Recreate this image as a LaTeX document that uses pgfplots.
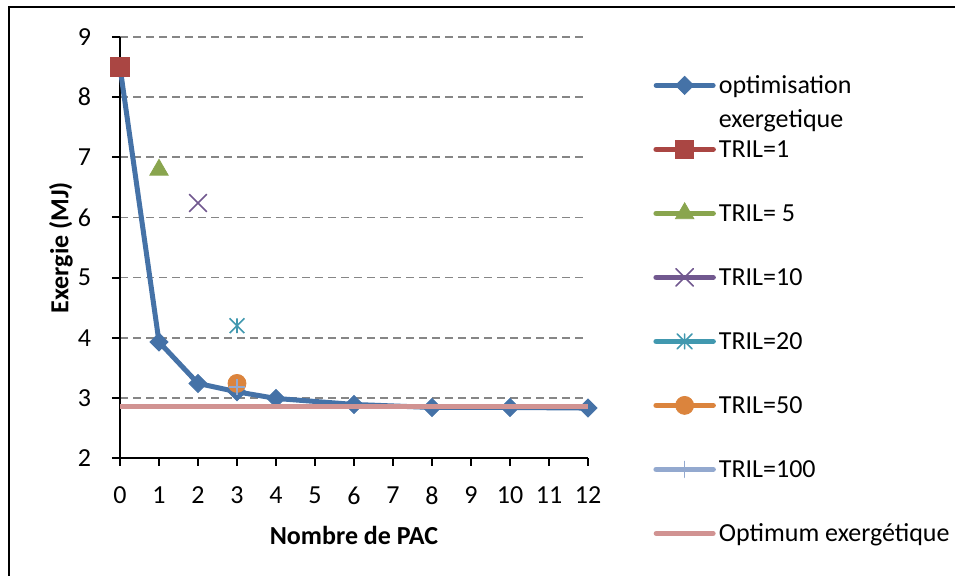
\documentclass[border=0pt]{standalone}
\usepackage{fontspec}
\setmainfont{Carlito}
\usepackage{pgfplots}
\pgfplotsset{compat=1.18}

\definecolor{serA}{RGB}{69,114,167}
\definecolor{serB}{RGB}{170,70,67}
\definecolor{serC}{RGB}{137,165,78}
\definecolor{serD}{RGB}{113,88,143}
\definecolor{serE}{RGB}{65,152,175}
\definecolor{serF}{RGB}{219,132,61}
\definecolor{serG}{RGB}{147,169,207}
\definecolor{serH}{RGB}{209,147,146}
\definecolor{gridgray}{RGB}{134,134,134}

% excel-like asterisk: x plus vertical bar
\pgfdeclareplotmark{xstar}{%
  \pgfpathmoveto{\pgfqpoint{0pt}{-\pgfplotmarksize}}%
  \pgfpathlineto{\pgfqpoint{0pt}{\pgfplotmarksize}}%
  \pgfpathmoveto{\pgfqpoint{-\pgfplotmarksize}{-\pgfplotmarksize}}%
  \pgfpathlineto{\pgfqpoint{\pgfplotmarksize}{\pgfplotmarksize}}%
  \pgfpathmoveto{\pgfqpoint{-\pgfplotmarksize}{\pgfplotmarksize}}%
  \pgfpathlineto{\pgfqpoint{\pgfplotmarksize}{-\pgfplotmarksize}}%
  \pgfusepathqstroke}

\begin{document}
\begin{tikzpicture}
\draw[line width=1pt] (4.5pt,-2pt) -- (4.5pt,284.25pt) -- (480pt,284.25pt);
\begin{axis}[
    set layers,
    at={(60pt,59pt)}, anchor=south west,
    x=19.5pt, y=30.07pt,
    xmin=0, xmax=12, ymin=2, ymax=9,
    xtick={0,...,12}, ytick={2,...,9},
    axis x line*=bottom, axis y line*=left,
    axis line style={black, line width=1pt},
    tick align=outside, major tick length=4pt,
    every tick/.style={black, line width=1pt},
    ymajorgrids,
    grid style={gridgray, line width=0.9pt, dash pattern=on 4pt off 2.5pt},
    tick label style={font=\fontsize{13}{15}\selectfont,
        /pgf/number format/assume math mode=true},
    xticklabel style={yshift=-7pt},
    yticklabel style={xshift=-7pt},
    xlabel={Nombre de PAC}, ylabel={Exergie (MJ)},
    label style={font=\fontsize{13}{15}\selectfont\bfseries},
    xlabel style={at={(axis description cs:0.5,-0.1829)}, anchor=center},
    ylabel style={at={(axis description cs:-0.126,0.5)}, anchor=center},
    clip=false,
    legend cell align=left,
    legend image code/.code={
        \draw[mark repeat=2, mark phase=2, line cap=round]
        plot coordinates {(0pt,0pt) (14.25pt,0pt) (28.5pt,0pt)};},
    legend style={
        at={(axis description cs:1.1389,0.962)}, anchor=north west,
        draw=none, fill=none, inner sep=0pt, row sep=0pt, column sep=1.5pt,
        font=\fontsize{13}{17}\selectfont,
        nodes={inner sep=0pt, text height=20pt, text depth=12pt},
    },
]
\addplot[serA, line width=2.5pt, mark=square*, mark size=3.2pt,
    mark options={rotate=45, line width=0.4pt}]
    coordinates {(0,8.5) (1,3.93) (2,3.24) (3,3.10) (4,2.99)
                 (6,2.89) (8,2.84) (10,2.84) (12,2.83)};
\addlegendentry{\begin{tabular}[t]{@{}l@{}}optimisation\\exergetique\end{tabular}}

\addplot[serB, line width=2.75pt, mark=square*, mark size=4.6pt,
    mark options={line width=0.4pt}] coordinates {(0,8.5)};
\addlegendentry{TRIL=1}

\addplot[serC, line width=2.75pt, mark=triangle*, mark size=5.3pt,
    mark options={line width=0.4pt}] coordinates {(1,6.79)};
\addlegendentry{TRIL= 5}

\addplot[serD, line width=2.75pt, mark=x, mark size=6.2pt,
    mark options={line width=0.8pt}] coordinates {(2,6.24)};
\addlegendentry{TRIL=10}

\addplot[serE, line width=2.75pt, mark=xstar, mark size=3.7pt,
    mark options={line width=0.8pt}] coordinates {(3,4.2)};
\addlegendentry{TRIL=20}

\addplot[serF, line width=2.75pt, mark=*, mark size=4.5pt,
    mark options={line width=0.4pt}] coordinates {(3,3.24)};
\addlegendentry{TRIL=50}

\addplot[serG, line width=2.75pt, mark=+, mark size=4pt,
    mark options={line width=0.7pt}] coordinates {(3,3.18)};
\addlegendentry{TRIL=100}

% optimum line on top of the diamonds, as in the original
\addplot[serH, line width=2.5pt, no marks, on layer=axis foreground, forget plot]
    coordinates {(0,2.85) (1,2.85) (2,2.85) (3,2.85) (4,2.85)
                 (6,2.85) (8,2.85) (10,2.85) (12,2.85)};
\addlegendimage{serH, line width=2.5pt, no marks}
\addlegendentry{Optimum exergétique}
\end{axis}
\pgfresetboundingbox
\path (0,0) rectangle (477.5pt,288pt);
\end{tikzpicture}
\end{document}
